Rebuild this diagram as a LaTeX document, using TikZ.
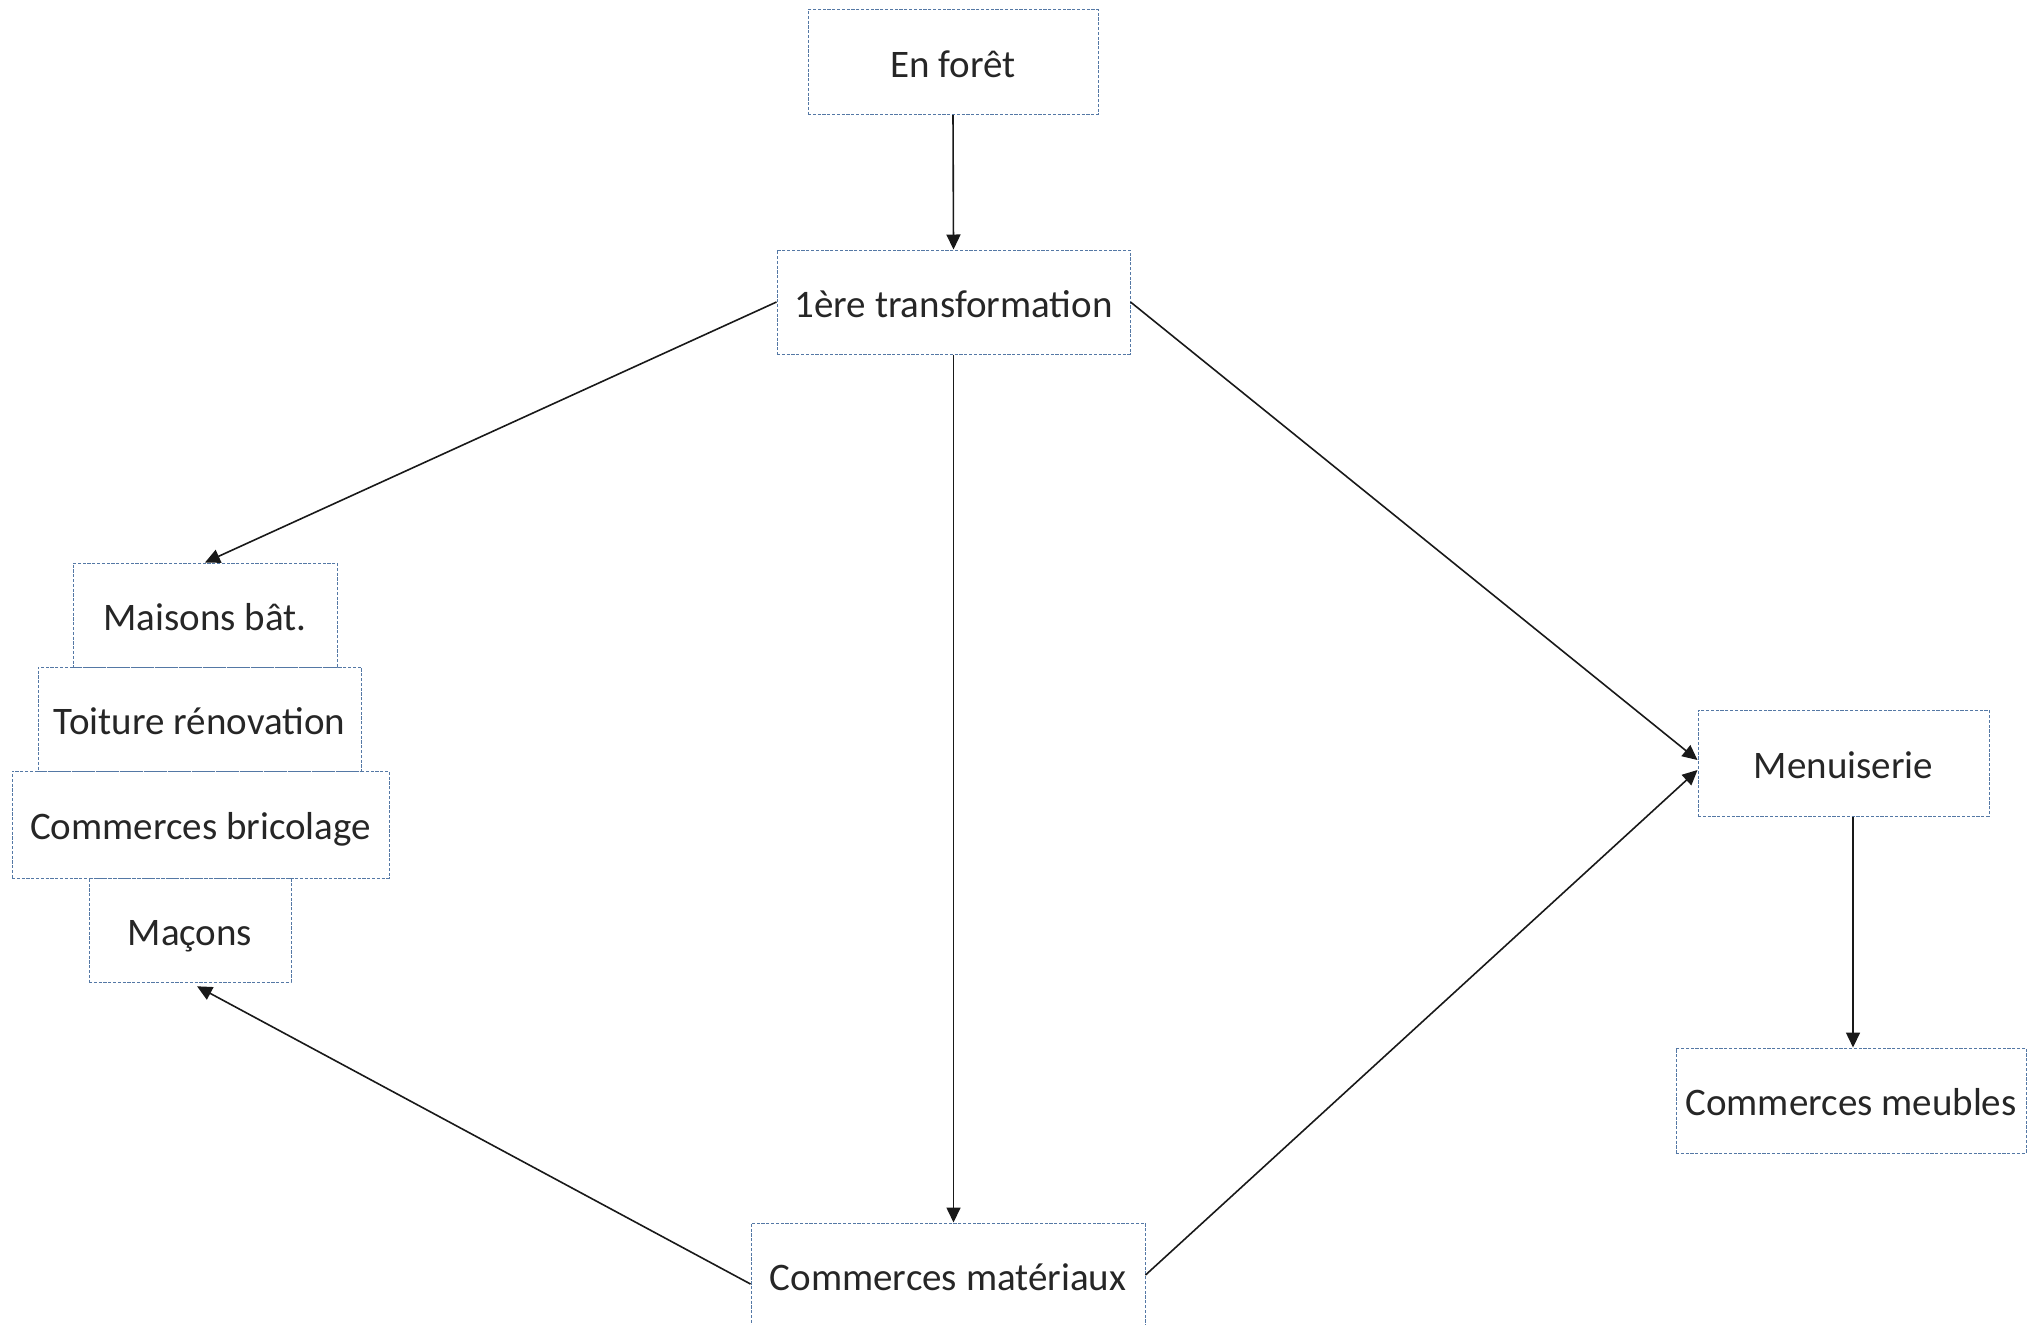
\documentclass[tikz,border=0pt]{standalone}
\usepackage{fontspec}
\setmainfont{Carlito}
\usetikzlibrary{arrows.meta}
\definecolor{boxline}{RGB}{84,120,165}

\begin{document}
\begin{tikzpicture}[x=0.5pt,y=-0.5pt,
  box/.style={draw=boxline,line width=0.5pt,dash pattern=on 1.6pt off 0.8pt,
    inner sep=0pt,text height=15pt,text depth=0pt,
    font=\fontsize{19.5}{22}\selectfont,text=black!85},
  flow/.style={draw=black!90,line width=0.8pt,-{Triangle[length=7.5pt,width=7pt]}}]

 \useasboundingbox (0,0) rectangle (2038,1324);

 % boxes
 \node[box,minimum width=145pt,minimum height=52.5pt] (foret) at (953,62) {En forêt};
 \node[box,minimum width=176.5pt,minimum height=52pt] (transfo) at (953.5,302) {1ère transformation};
 \node[box,minimum width=132pt,minimum height=52pt] (maisons) at (205,615) {Maisons bât.};
 \node[box,minimum width=161.5pt,minimum height=52pt] (toiture) at (199.5,719) {Toiture rénovation};
 \node[box,minimum width=188.5pt,minimum height=53.5pt] (bricolage) at (200.5,824.5) {Commerces bricolage};
 \node[box,minimum width=101pt,minimum height=52pt] (macons) at (190,930) {Maçons};
 \node[box,minimum width=145.5pt,minimum height=53pt] (menuiserie) at (1843.5,763) {Menuiserie};
 \node[box,minimum width=175pt,minimum height=52.5pt] (meubles) at (1851,1100.5) {Commerces meubles};
 \node[box,minimum width=197pt,minimum height=52pt] (materiaux) at (948,1275) {Commerces matériaux};

 % arrows
 \draw[flow] (foret.south) -- (transfo.north);
 \draw[flow] (transfo.west) -- (maisons.north);
 \draw[flow] (transfo.south) -- (transfo.south |- materiaux.north);
 \draw[flow] (transfo.east) -- ([yshift=1.5pt]menuiserie.west);
 \draw[flow,shorten >=4pt] ([yshift=-4.5pt]materiaux.west) -- (macons.south);
 \draw[flow] (materiaux.east) -- ([yshift=-3.5pt]menuiserie.west);
 \draw[flow] (menuiserie.south -| 1853,0) -- (meubles.north -| 1853,0);

\end{tikzpicture}
\end{document}
